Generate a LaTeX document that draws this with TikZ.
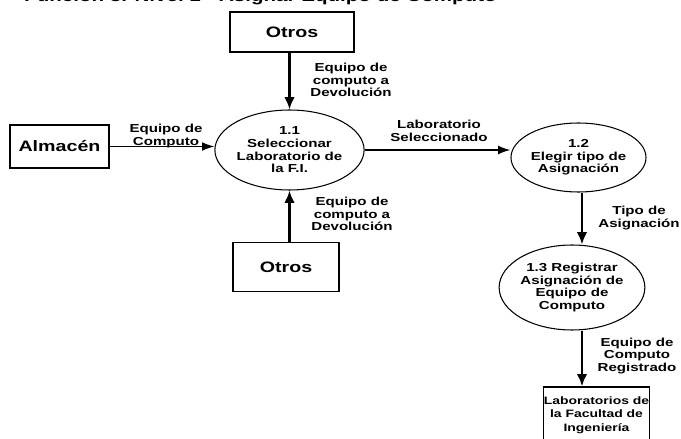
\documentclass[tikz,border=0pt]{standalone}
\usepackage{fontspec}
\setmainfont{Liberation Sans}[FakeStretch=1.3]
\usetikzlibrary{shapes.geometric,arrows.meta}

\begin{document}
\begin{tikzpicture}[x=0.02cm, y=-0.02cm, font=\bfseries,
    entidad/.style={draw, line width=0.7pt, inner sep=0pt, font=\bfseries\fontsize{8.6}{10}\selectfont},
    proceso/.style={draw, ellipse, line width=0.6pt, inner sep=0pt, align=center, font=\bfseries\fontsize{6.6}{7.2}\selectfont},
    etiqueta/.style={align=center, inner sep=0pt, font=\bfseries\fontsize{6.6}{7}\selectfont},
    flujo/.style={-{Latex[length=7pt,width=5pt]}, line width=0.8pt},
    flujov/.style={-{Latex[length=7pt,width=6pt]}, line width=1.6pt}]

        % marco de la imagen
        \useasboundingbox (0,0) rectangle (681,439);

        % titulo (cortado arriba)
        \node[anchor=base east, inner sep=0pt, font=\bfseries\fontsize{9}{10}\selectfont] (titulo) at (497, 2)
            {Función 3. Nivel 1 - Asignar Equipo de Computo};

        % Entidades externas
        \node[entidad, minimum width=2.48cm, minimum height=0.8cm] (otrosA) at (292, 32) {Otros};
        \node[entidad, minimum width=2.12cm, minimum height=0.98cm] (otrosB) at (286, 267) {Otros};
        \node[entidad, minimum width=1.98cm, minimum height=0.86cm] (almacen) at (59.5, 146.5) {Almacén};
        \node[entidad, minimum width=1.86cm, minimum height=1.12cm, align=center,
              font=\bfseries\fontsize{6.1}{7.8}\selectfont] (labs) at (596.5, 415)
            {Laboratorios de\\la Facultad de\\Ingeniería};

        % Procesos
        \node[proceso, minimum width=2.68cm, minimum height=1.6cm] (p11) at (289.5, 150)
            {1.1\\Seleccionar\\Laboratorio de\\la F.I.};
        \node[proceso, minimum width=2.46cm, minimum height=1.38cm] (p12) at (578.5, 157.5)
            {1.2\\Elegir tipo de\\Asignación};
        \node[proceso, minimum width=2cm, minimum height=1.7cm] (p13) at (572, 287.5)
            {1.3 Registrar\\Asignación de\\Equipo de\\Computo};

        % eje de las flechas de la derecha
        \coordinate (eje) at (582, 0);

        % Flujos
        \draw[flujov] (p11.north |- otrosA.south) -- (p11.north);
        \draw[flujov] (p11.south |- otrosB.north) -- (p11.south);
        \draw[flujo] (almacen.east) -- (almacen.east -| p11.west);
        \draw[flujo] (p11.east) -- (p11.east -| p12.west);
        \draw[flujov] (eje |- p12.south) -- (eje |- p13.north);
        \draw[flujov] (eje |- p13.south) -- (eje |- labs.north);

        % Etiquetas de los flujos
        \node[etiqueta] (eA) at (351, 80) {Equipo de\\computo a\\Devolución};
        \node[etiqueta] (eB) at (352, 214) {Equipo de\\computo a\\Devolución};
        \node[etiqueta] (eC) at (166, 136) {Equipo de\\Computo};
        \node[etiqueta] (eD) at (439, 131) {Laboratorio\\Seleccionado};
        \node[etiqueta, anchor=east] (eE) at (680, 218) {Tipo de\\Asignación};
        \node[etiqueta] (eF) at (637, 356) {Equipo de\\Computo\\Registrado};

\end{tikzpicture}
\end{document}
